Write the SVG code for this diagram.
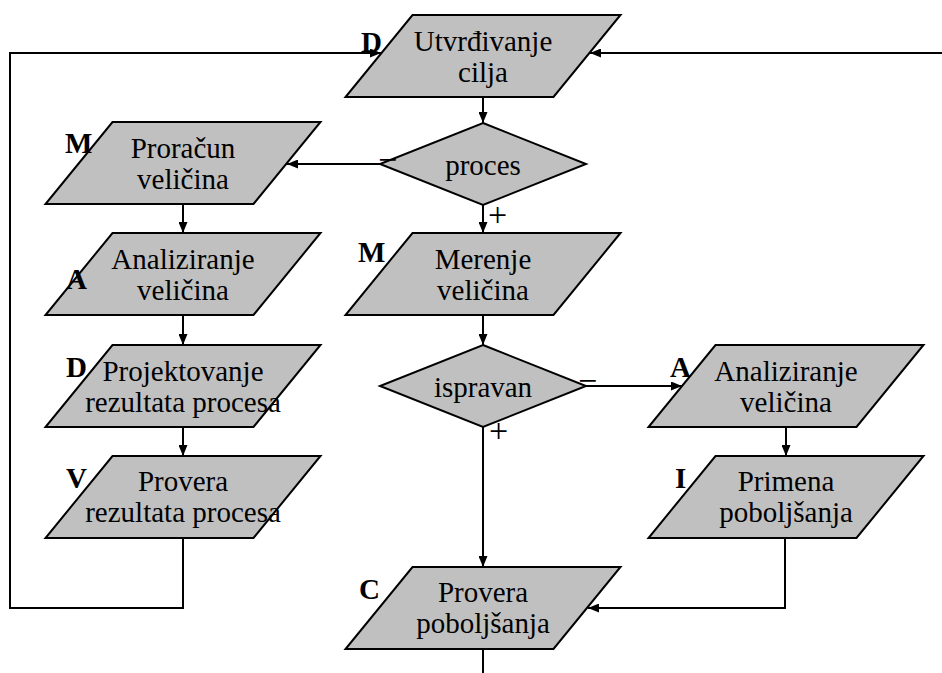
<svg xmlns="http://www.w3.org/2000/svg" width="942" height="673" viewBox="0 0 942 673">
<style>
.shape{fill:#c0c0c0;stroke:#000;stroke-width:2;stroke-linejoin:miter}
.t{font-family:"Liberation Serif","Times New Roman",serif;font-size:29px;fill:#000;text-anchor:middle}
.lbl{font-family:"Liberation Serif","Times New Roman",serif;font-size:29px;font-weight:bold;fill:#000}
.sg{font-family:"Liberation Serif","Times New Roman",serif;font-size:34px;fill:#000}
.c{fill:none;stroke:#000;stroke-width:2}
</style>
<defs>
<marker id="ah" markerUnits="userSpaceOnUse" markerWidth="11" markerHeight="9" refX="11" refY="4.5" orient="auto">
<path d="M0,0 L11,4.5 L0,9 z" fill="#000"/>
</marker>
</defs>
<rect width="942" height="673" fill="#fff"/>
<g id="connectors">
<polyline class="c" points="183,538 183,608 10,608 10,53 381,53" marker-end="url(#ah)"/>
<line class="c" x1="942" y1="53" x2="590" y2="53" marker-end="url(#ah)"/>
<line class="c" x1="483" y1="97" x2="483" y2="123" marker-end="url(#ah)"/>
<line class="c" x1="380" y1="164" x2="287" y2="164" marker-end="url(#ah)"/>
<line class="c" x1="483" y1="205" x2="483" y2="233" marker-end="url(#ah)"/>
<line class="c" x1="183" y1="204" x2="183" y2="233" marker-end="url(#ah)"/>
<line class="c" x1="183" y1="315" x2="183" y2="345" marker-end="url(#ah)"/>
<line class="c" x1="183" y1="427" x2="183" y2="456" marker-end="url(#ah)"/>
<line class="c" x1="483" y1="315" x2="483" y2="345" marker-end="url(#ah)"/>
<line class="c" x1="586" y1="386" x2="682" y2="386" marker-end="url(#ah)"/>
<line class="c" x1="786" y1="427" x2="786" y2="456" marker-end="url(#ah)"/>
<line class="c" x1="483" y1="427" x2="483" y2="567" marker-end="url(#ah)"/>
<polyline class="c" points="785,538 785,608 588,608" marker-end="url(#ah)"/>
<line class="c" x1="483" y1="649" x2="483" y2="673"/>
</g>
<g id="n-utvrdjivanje">
<polygon class="shape" points="412.5,15 620.5,15 553.5,97 345.5,97"/>
<text class="t" x="483" y="51">Utvrđivanje</text>
<text class="t" x="483" y="82">cilja</text>
<text class="lbl" x="361" y="52">D</text>
</g>
<g id="n-proces">
<polygon class="shape" points="483,123 586,164 483,205 380,164"/>
<text class="t" x="483" y="175">proces</text>
<text class="sg" x="378" y="171">−</text>
<text class="sg" x="488" y="226">+</text>
</g>
<g id="n-proracun">
<polygon class="shape" points="112.5,122 320.5,122 253.5,204 45.5,204"/>
<text class="t" x="183" y="158">Proračun</text>
<text class="t" x="183" y="189">veličina</text>
<text class="lbl" x="65" y="153">M</text>
</g>
<g id="n-analiziranje-l">
<polygon class="shape" points="112.5,233 320.5,233 253.5,315 45.5,315"/>
<text class="t" x="183" y="269">Analiziranje</text>
<text class="t" x="183" y="300">veličina</text>
<text class="lbl" x="66" y="289">A</text>
</g>
<g id="n-projektovanje">
<polygon class="shape" points="112.5,345 320.5,345 253.5,427 45.5,427"/>
<text class="t" x="183" y="381">Projektovanje</text>
<text class="t" x="183" y="412">rezultata procesa</text>
<text class="lbl" x="66" y="377">D</text>
</g>
<g id="n-provera-rez">
<polygon class="shape" points="112.5,456 320.5,456 253.5,538 45.5,538"/>
<text class="t" x="183" y="491">Provera</text>
<text class="t" x="183" y="522">rezultata procesa</text>
<text class="lbl" x="66" y="488">V</text>
</g>
<g id="n-merenje">
<polygon class="shape" points="412.5,233 620.5,233 553.5,315 345.5,315"/>
<text class="t" x="483" y="269">Merenje</text>
<text class="t" x="483" y="300">veličina</text>
<text class="lbl" x="358" y="262">M</text>
</g>
<g id="n-ispravan">
<polygon class="shape" points="483,345 586,386 483,427 380,386"/>
<text class="t" x="483" y="397">ispravan</text>
<text class="sg" x="578" y="392">−</text>
<text class="sg" x="489" y="442">+</text>
</g>
<g id="n-analiziranje-r">
<polygon class="shape" points="715.5,345 923.5,345 856.5,427 648.5,427"/>
<text class="t" x="786" y="381">Analiziranje</text>
<text class="t" x="786" y="412">veličina</text>
<text class="lbl" x="670" y="377">A</text>
</g>
<g id="n-primena">
<polygon class="shape" points="715.5,456 923.5,456 856.5,538 648.5,538"/>
<text class="t" x="786" y="491">Primena</text>
<text class="t" x="786" y="522">poboljšanja</text>
<text class="lbl" x="675" y="488">I</text>
</g>
<g id="n-provera-pob">
<polygon class="shape" points="412.5,567 620.5,567 553.5,649 345.5,649"/>
<text class="t" x="483" y="602">Provera</text>
<text class="t" x="483" y="633">poboljšanja</text>
<text class="lbl" x="359" y="599">C</text>
</g>
</svg>
